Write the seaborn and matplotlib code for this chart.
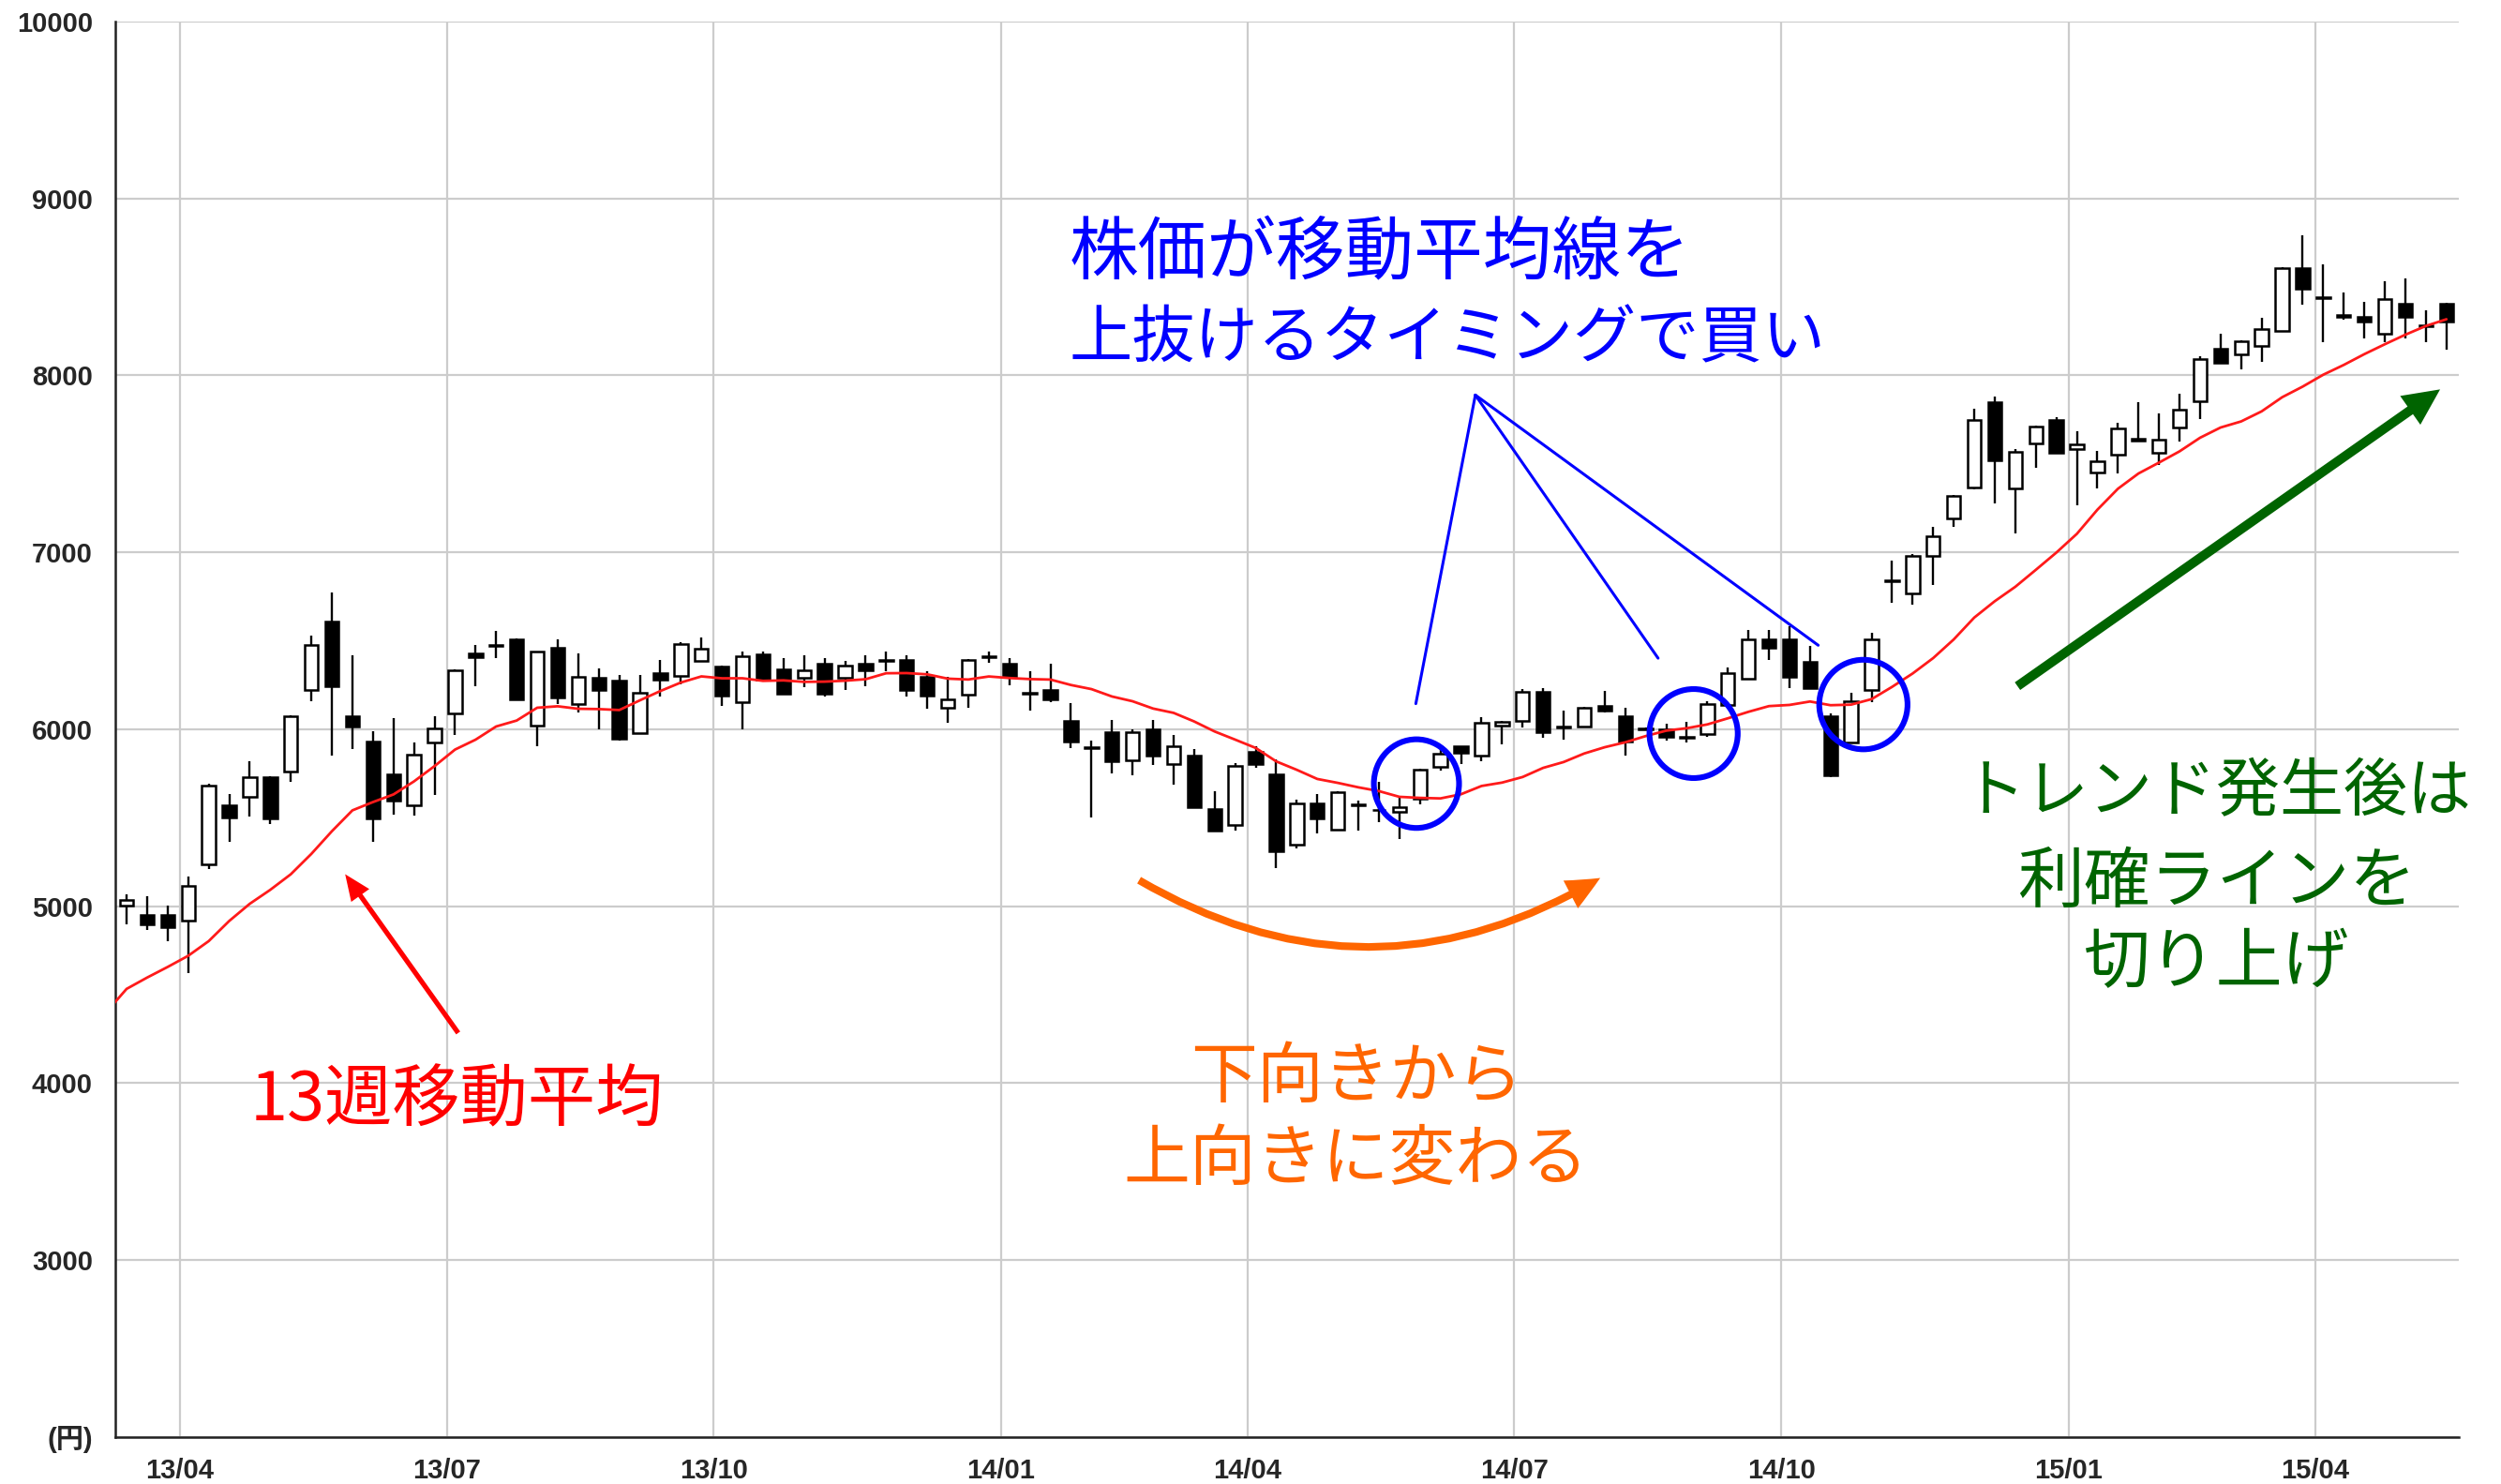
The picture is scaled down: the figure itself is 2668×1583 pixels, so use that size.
import numpy as np
import pandas as pd
import seaborn as sns
import matplotlib
matplotlib.use("Agg")
from matplotlib import pyplot as plt
from matplotlib.patches import Ellipse, FancyArrowPatch

# 週足 (始値・高値・安値・終値), 2013/03 - 2015/05, チャートから読み取り
opens = [5005, 4952, 4952, 4917, 5238, 5569, 5618, 5731, 5762, 6220,
         6607, 6074, 5930, 5745, 5569, 5924, 6088, 6428, 6475, 6511,
         6023, 6463, 6141, 6290, 6273, 5979, 6320, 6303, 6384, 6356,
         6155, 6423, 6338, 6290, 6370, 6290, 6370, 6390, 6391, 6299,
         6120, 6194, 6410, 6370, 6206, 6220, 6045, 5900, 5986, 5825,
         6000, 5802, 5854, 5547, 5460, 5872, 5744, 5346, 5582, 5433,
         5576, 5546, 5533, 5609, 5789, 5902, 5854, 6021, 6047, 6214,
         6017, 6018, 6133, 6073, 6005, 6000, 5955, 5974, 6139, 6288,
         6511, 6511, 6380, 6073, 5927, 6224, 6840, 6766, 6982, 7192,
         7365, 7849, 7361, 7614, 7750, 7586, 7450, 7550, 7644, 7564,
         7705, 7855, 8150, 8120, 8168, 8249, 8605, 8440, 8340, 8332,
         8235, 8407, 8282, 8407]
highs = [5067, 5055, 5005, 5167, 5690, 5636, 5819, 5735, 6080, 6528,
         6775, 6417, 5991, 6062, 5924, 6074, 6340, 6475, 6558, 6515,
         6440, 6511, 6428, 6343, 6308, 6308, 6391, 6490, 6519, 6360,
         6440, 6440, 6405, 6419, 6401, 6387, 6419, 6440, 6419, 6326,
         6299, 6395, 6437, 6401, 6326, 6373, 6148, 5937, 6053, 6000,
         6053, 5968, 5889, 5649, 5811, 5902, 5828, 5600, 5635, 5649,
         5596, 5702, 5618, 5775, 5889, 5905, 6070, 6050, 6228, 6235,
         6106, 6125, 6215, 6124, 6012, 6033, 6042, 6157, 6352, 6562,
         6562, 6580, 6471, 6088, 6206, 6544, 6954, 6990, 7146, 7325,
         7812, 7880, 7584, 7715, 7762, 7684, 7573, 7732, 7850, 7785,
         7896, 8108, 8238, 8198, 8323, 8612, 8790, 8626, 8467, 8414,
         8531, 8549, 8367, 8410]
lows = [4896, 4864, 4803, 4621, 5208, 5366, 5507, 5463, 5704, 6158,
        5850, 5886, 5366, 5516, 5512, 5630, 5970, 6241, 6405, 6165,
        5903, 6141, 6097, 6000, 5938, 5975, 6185, 6255, 6384, 6132,
        6000, 6278, 6200, 6238, 6185, 6220, 6246, 6326, 6185, 6114,
        6039, 6123, 6378, 6250, 6106, 6155, 5896, 5504, 5749, 5740,
        5796, 5688, 5555, 5425, 5425, 5784, 5214, 5328, 5411, 5425,
        5425, 5477, 5381, 5574, 5767, 5802, 5819, 5916, 6012, 5951,
        5942, 6015, 6097, 5854, 5995, 5938, 5923, 5960, 6133, 6288,
        6394, 6234, 6230, 5732, 5925, 6151, 6717, 6704, 6818, 7146,
        7356, 7274, 7109, 7480, 7560, 7268, 7362, 7444, 7628, 7494,
        7626, 7755, 8068, 8032, 8079, 8245, 8402, 8190, 8314, 8208,
        8190, 8208, 8190, 8146]
closes = [5035, 4900, 4882, 5114, 5683, 5502, 5731, 5498, 6074, 6479,
          6241, 6018, 5498, 5595, 5859, 6004, 6331, 6410, 6470, 6167,
          6440, 6181, 6294, 6220, 5947, 6208, 6282, 6484, 6454, 6190,
          6414, 6278, 6202, 6331, 6199, 6361, 6331, 6385, 6220, 6190,
          6167, 6391, 6414, 6299, 6200, 6167, 5932, 5896, 5819, 5982,
          5849, 5902, 5561, 5428, 5793, 5802, 5311, 5582, 5495, 5644,
          5570, 5542, 5561, 5772, 5863, 5867, 6035, 6042, 6211, 5982,
          6013, 6120, 6106, 5932, 6000, 5960, 5950, 6142, 6316, 6511,
          6462, 6297, 6234, 5741, 6161, 6511, 6835, 6982, 7091, 7319,
          7748, 7520, 7569, 7709, 7564, 7612, 7515, 7700, 7631, 7635,
          7808, 8090, 8072, 8194, 8261, 8608, 8490, 8435, 8332, 8305,
          8429, 8332, 8277, 8302]
# 表示範囲より前のデータを含む13週移動平均の最初の部分 (チャートから読み取り)
ma_head = [4400, 4533, 4597, 4657, 4720, 4803, 4917, 5014, 5093, 5181,
           5296, 5424, 5542]
first_week = "2013-03-15"
month_labels = ["13/04", "13/07", "13/10", "14/01", "14/04",
                "14/07", "14/10", "15/01", "15/04"]
y_ticks = [2000, 3000, 4000, 5000, 6000, 7000, 8000, 9000, 10000]
y_labels = ["(円)", "3000", "4000", "5000", "6000", "7000", "8000", "9000", "10000"]

sns.set_style("white")
plt.rcParams["font.family"] = ["Noto Sans CJK JP", "DejaVu Sans"]
JP = ["Noto Sans CJK JP", "DejaVu Sans"]

n = len(closes)
df = pd.DataFrame({"open": opens, "high": highs, "low": lows, "close": closes})
df["x"] = np.arange(n)
df["ma13"] = df["close"].rolling(13).mean()

# 週の日付 (年始の短い週は12月扱い)
weeks = pd.date_range(first_week, periods=n, freq="W-FRI")
wdate = [d - pd.Timedelta(days=7) if (d.month == 1 and d.day <= 3) else d for d in weeks]
tick_pos = []
for lab in month_labels:
    yy, mm = int(lab[:2]) + 2000, int(lab[3:])
    i = next(k for k, d in enumerate(wdate) if d.year == yy and d.month == mm)
    tick_pos.append(i - 0.4)

ma = pd.DataFrame({"x": list(range(-1, 12)) + list(range(12, n)),
                   "ma": ma_head + df["ma13"].iloc[12:].tolist()})

fig = plt.figure(figsize=(13.34, 7.915), dpi=200)
ax = fig.add_axes([0.0461, 0.0316, 0.937, 0.9539])

# ローソク足
up = df["close"] >= df["open"]
body_lo = df[["open", "close"]].min(axis=1)
body_h = (df["close"] - df["open"]).abs().clip(lower=3)
ax.vlines(df["x"], df["low"], df["high"], color="black", lw=0.85, zorder=2)
ax.bar(df["x"], body_h, bottom=body_lo, width=0.66,
       color=np.where(up, "white", "black"), edgecolor="black", lw=0.9, zorder=3)

sns.lineplot(data=ma, x="x", y="ma", ax=ax, color="#ff1a1a", lw=1.0, zorder=4)

ax.set_xlim(-0.55, 113.6)
ax.set_ylim(2000, 10000)
ax.set_xticks(tick_pos)
ax.set_xticklabels(month_labels)
ax.set_yticks(y_ticks)
ax.set_yticklabels(y_labels)
ax.set_xlabel("")
ax.set_ylabel("")
ax.grid(True, color="#cccccc", lw=0.8, zorder=0)
ax.set_axisbelow(True)
for s in ["top", "right"]:
    ax.spines[s].set_visible(False)
for s in ["left", "bottom"]:
    ax.spines[s].set_color("#222222")
    ax.spines[s].set_linewidth(0.9)
ax.tick_params(axis="y", length=4.7, width=0.8, pad=4, color="#222222")
ax.tick_params(axis="x", length=6, width=0.8, pad=2, color="#222222")
for t in ax.get_xticklabels() + ax.get_yticklabels():
    t.set_fontfamily(["Liberation Sans", "Noto Sans CJK JP", "DejaVu Sans"])
    t.set_fontweight("bold")
    t.set_fontsize(10.5)

# 注釈
fs = 25.5
ax.text(16.1, 3899, "13週移動平均", color="#ff0000", fontsize=26, ha="center", va="center", family=JP)
ax.add_patch(FancyArrowPatch((16.3, 4260), (10.5, 5205), mutation_scale=1,
             arrowstyle="simple,head_length=10,head_width=8.5,tail_width=1.9",
             color="#ff0000", lw=0, zorder=5))

ax.text(59.9, 4034, "下向きから", color="#ff6600", fontsize=fs, ha="center", va="center", family=JP)
ax.text(59.9, 3565, "上向きに変わる", color="#ff6600", fontsize=fs, ha="center", va="center", family=JP)
ax.add_patch(FancyArrowPatch((49.1, 5162), (72.0, 5175), mutation_scale=1,
             connectionstyle="arc3,rad=0.3",
             arrowstyle="simple,head_length=13,head_width=12,tail_width=2.9",
             color="#ff6600", lw=0, zorder=5))

ax.text(45.9, 8682, "株価が移動平均線を", color="#0000ff", fontsize=26.5, ha="left", va="center", family=JP)
ax.text(45.9, 8204, "上抜けるタイミングで買い", color="#0000ff", fontsize=24.2, ha="left", va="center", family=JP)
for ex, ey in [(62.8, 6145), (74.6, 6402), (82.4, 6475)]:
    ax.plot([65.7, ex], [7889, ey], color="#0000ff", lw=1.1, zorder=5)
for cx, cy, w, h in [(62.83, 5693, 4.15, 501), (76.33, 5976, 4.3, 503), (84.6, 6140, 4.3, 506)]:
    ax.add_patch(Ellipse((cx, cy), w, h, fill=False, ec="#0000ff", lw=2.2, zorder=6))

ax.add_patch(FancyArrowPatch((91.9, 6227), (112.9, 7938), mutation_scale=1,
             arrowstyle="simple,head_length=14,head_width=13.5,tail_width=3.6",
             color="#006400", lw=0, zorder=5))
ax.text(101.8, 5641, "トレンド発生後は", color="#006400", fontsize=24.5, ha="center", va="center", family=JP)
ax.text(101.8, 5135, "利確ラインを", color="#006400", fontsize=fs, ha="center", va="center", family=JP)
ax.text(101.8, 4675, "切り上げ", color="#006400", fontsize=fs, ha="center", va="center", family=JP)

fig.savefig("out.png", dpi=200)
